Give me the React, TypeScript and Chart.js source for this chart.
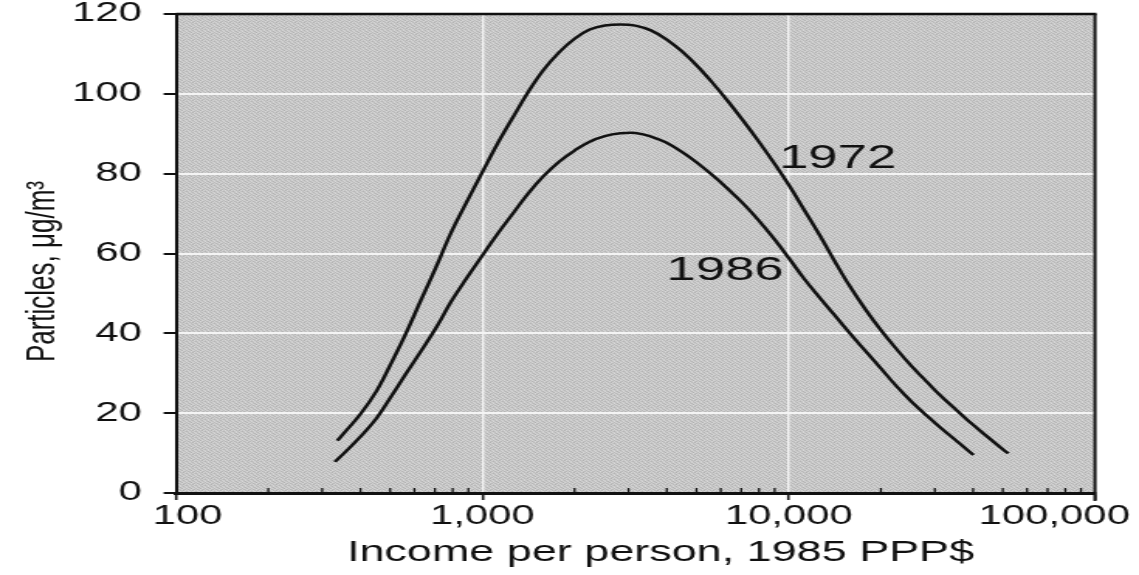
import React, { useEffect, useRef } from "react";
import { Chart, registerables } from "chart.js";

Chart.register(...registerables);

// ---- data ----
const incomes1972 = [336, 355, 400, 450, 500, 560, 630, 710, 790, 890, 1000, 1120, 1260, 1410, 1580, 1780, 2000, 2240, 2510, 2820, 3160, 3550, 3980, 4470, 5010, 5620, 6310, 7080, 7940, 8910, 10000, 11200, 12600, 14100, 15800, 17800, 20000, 22400, 25100, 28200, 31600, 35500, 39800, 44700, 50100, 52100];
const particles1972 = [13.1, 15.2, 19.8, 25.4, 32.0, 39.6, 48.3, 57.0, 65.2, 73.0, 80.4, 87.5, 94.2, 100.4, 105.9, 110.4, 113.8, 116.1, 117.1, 117.4, 117.1, 115.9, 113.7, 110.7, 107.1, 102.9, 98.3, 93.4, 88.3, 82.9, 77.2, 71.1, 64.7, 58.2, 51.9, 46.0, 40.8, 36.2, 31.9, 27.9, 24.1, 20.6, 17.2, 14.0, 10.9, 9.9];

const incomes1986 = [330, 355, 400, 450, 500, 560, 630, 710, 790, 890, 1000, 1120, 1260, 1410, 1580, 1780, 2000, 2240, 2510, 2820, 3160, 3550, 3980, 4470, 5010, 5620, 6310, 7080, 7940, 8910, 10000, 11200, 12600, 14100, 15800, 17800, 20000, 22400, 25100, 28200, 31600, 35500, 40100];
const particles1986 = [7.8, 10.1, 14.1, 18.6, 23.8, 29.6, 35.5, 41.7, 47.9, 53.9, 59.5, 64.9, 70.1, 75.0, 79.3, 83.0, 85.8, 88.0, 89.4, 90.1, 90.2, 89.3, 87.8, 85.5, 82.8, 79.7, 76.3, 72.6, 68.5, 63.9, 58.9, 53.8, 49.0, 44.6, 40.1, 35.6, 31.2, 26.9, 23.0, 19.4, 16.1, 12.9, 9.5];

const xTickValues = [100, 1000, 10000, 100000];
const xTickLabels = ["100", "1,000", "10,000", "100,000"];
const yTickValues = [0, 20, 40, 60, 80, 100, 120];

const seriesNames = ["1972", "1986"];
const seriesLabelIncome = [9300, 3990];
const seriesLabelParticles = [81.5, 53.4];

const xTitle = "Income per person, 1985 PPP$";
const yTitle = "Particles, \u03bcg/m\u00b3";

// ---- layout / style ----
const PAGE_W = 1139;
const PAGE_H = 575;
const CANVAS_W = 735;
const STRETCH = PAGE_W / CANVAS_W;
const FONT = "'Liberation Sans', Arial, Helvetica, sans-serif";
const INK = "#111111";
const STIPPLE = [
  [206, 188, 214, 198, 182, 210],
  [216, 194, 180, 208, 200, 190],
  [186, 212, 202, 176, 214, 204],
  [208, 182, 196, 216, 192, 184],
  [196, 214, 186, 200, 178, 212],
  [180, 200, 212, 188, 208, 196],
];

let stippleCache: any = null;
function plotFill(ctx: CanvasRenderingContext2D): any {
  if (stippleCache) return stippleCache;
  const tile = document.createElement("canvas");
  tile.width = STIPPLE[0].length;
  tile.height = STIPPLE.length;
  const tctx = tile.getContext("2d");
  if (!tctx) return "#c8c8c8";
  STIPPLE.forEach((row, r) =>
    row.forEach((g, c) => {
      tctx.fillStyle = `rgb(${g},${g},${g})`;
      tctx.fillRect(c, r, 1, 1);
    })
  );
  stippleCache = ctx.createPattern(tile, "repeat") || "#c8c8c8";
  return stippleCache;
}

const framePlugin = {
  id: "frameAndLabels",
  beforeDraw(chart: any) {
    const { ctx, chartArea } = chart;
    const { left, top, right, bottom } = chartArea;
    ctx.save();
    ctx.fillStyle = plotFill(ctx);
    ctx.fillRect(left, top, right - left, bottom - top);
    ctx.restore();
  },
  afterDatasetsDraw(chart: any) {
    const { ctx } = chart;
    const xs = chart.scales.x;
    const ys = chart.scales.y;
    ctx.save();
    ctx.fillStyle = INK;
    ctx.font = `34px ${FONT}`;
    ctx.textAlign = "left";
    ctx.textBaseline = "alphabetic";
    seriesNames.forEach((name, i) => {
      ctx.fillText(name, xs.getPixelForValue(seriesLabelIncome[i]), ys.getPixelForValue(seriesLabelParticles[i]));
    });
    ctx.restore();
  },
  afterDraw(chart: any) {
    const { ctx, chartArea } = chart;
    const { left, top, right, bottom } = chartArea;
    const xs = chart.scales.x;
    ctx.save();
    ctx.strokeStyle = INK;
    ctx.lineWidth = 2.5;
    ctx.beginPath();
    ctx.moveTo(left, top);
    ctx.lineTo(right + 1, top);
    ctx.stroke();
    ctx.lineWidth = 2;
    ctx.beginPath();
    ctx.moveTo(right, top);
    ctx.lineTo(right, bottom + 8);
    ctx.stroke();
    ctx.lineWidth = 1.3;
    for (let d = 100; d < 100000; d *= 10) {
      for (let m = 2; m <= 9; m++) {
        const px = xs.getPixelForValue(m * d);
        ctx.beginPath();
        ctx.moveTo(px, bottom);
        ctx.lineTo(px, bottom - 5);
        ctx.stroke();
      }
    }
    ctx.restore();
  },
};

export default function App() {
  const canvasRef = useRef<HTMLCanvasElement | null>(null);

  useEffect(() => {
    const canvas = canvasRef.current;
    if (!canvas) return;
    const chart = new Chart(canvas, {
      type: "line",
      data: {
        datasets: [
          {
            label: seriesNames[0],
            data: incomes1972.map((x, i) => ({ x, y: particles1972[i] })),
            borderColor: INK,
            borderWidth: 2.5,
            pointRadius: 0,
            fill: false,
            tension: 0.4,
          },
          {
            label: seriesNames[1],
            data: incomes1986.map((x, i) => ({ x, y: particles1986[i] })),
            borderColor: INK,
            borderWidth: 2.5,
            pointRadius: 0,
            fill: false,
            tension: 0.4,
          },
        ],
      },
      options: {
        responsive: false,
        animation: false,
        events: [],
        layout: { padding: { top: 14, right: 28.4, left: 0, bottom: 0 } },
        plugins: {
          legend: { display: false },
          tooltip: { enabled: false },
        },
        scales: {
          x: {
            type: "logarithmic",
            min: 100,
            max: 100000,
            afterBuildTicks: (scale: any) => {
              scale.ticks = xTickValues.map((v) => ({ value: v }));
            },
            afterFit: (scale: any) => {
              scale.height = PAGE_H - 493;
              scale.paddingLeft = 0;
              scale.paddingRight = 0;
              scale.paddingTop = 0;
              scale.paddingBottom = 0;
            },
            grid: {
              color: "#f4f4f4",
              lineWidth: 1.4,
              drawTicks: true,
              tickLength: 7,
              tickColor: INK,
              tickWidth: 1.6,
            },
            border: { display: true, color: INK, width: 3 },
            ticks: {
              autoSkip: false,
              maxRotation: 0,
              minRotation: 0,
              padding: 0,
              color: INK,
              font: { family: FONT, size: 27 },
              callback: (value: any) => {
                const idx = xTickValues.indexOf(Number(value));
                if (idx < 0) return "";
                const label = xTickLabels[idx];
                if (idx === 0) return "  " + label;
                if (idx === xTickValues.length - 1) return label + "       ";
                return label;
              },
            },
            title: {
              display: true,
              text: "    " + xTitle,
              color: INK,
              font: { family: FONT, size: 29 },
              padding: { top: 0, bottom: 5 },
            },
          },
          y: {
            type: "linear",
            min: 0,
            max: 120,
            afterBuildTicks: (scale: any) => {
              scale.ticks = yTickValues.map((v) => ({ value: v }));
            },
            afterFit: (scale: any) => {
              scale.width = 113.6;
              scale.paddingLeft = 0;
              scale.paddingRight = 0;
              scale.paddingTop = 0;
              scale.paddingBottom = 0;
            },
            grid: {
              color: "#f4f4f4",
              lineWidth: 2,
              drawTicks: true,
              tickLength: 8,
              tickColor: INK,
              tickWidth: 2,
            },
            border: { display: true, color: INK, width: 2 },
            ticks: {
              padding: 14,
              color: INK,
              font: { family: FONT, size: 27, lineHeight: 1 },
              callback: (value: any) => String(value),
            },
            title: {
              display: true,
              text: yTitle + "     ",
              color: INK,
              font: { family: FONT, size: 26 },
              padding: { top: 12, bottom: 0 },
            },
          },
        },
      },
      plugins: [framePlugin],
    } as any);
    return () => chart.destroy();
  }, []);

  return (
    <div
      style={{
        position: "absolute",
        left: 0,
        top: 0,
        width: PAGE_W,
        height: PAGE_H,
        overflow: "hidden",
        background: "#ffffff",
      }}
    >
      <div
        style={{
          width: CANVAS_W,
          height: PAGE_H,
          transform: `scaleX(${STRETCH})`,
          transformOrigin: "0 0",
        }}
      >
        <canvas ref={canvasRef} width={CANVAS_W} height={PAGE_H} style={{ display: "block" }} />
      </div>
    </div>
  );
}
